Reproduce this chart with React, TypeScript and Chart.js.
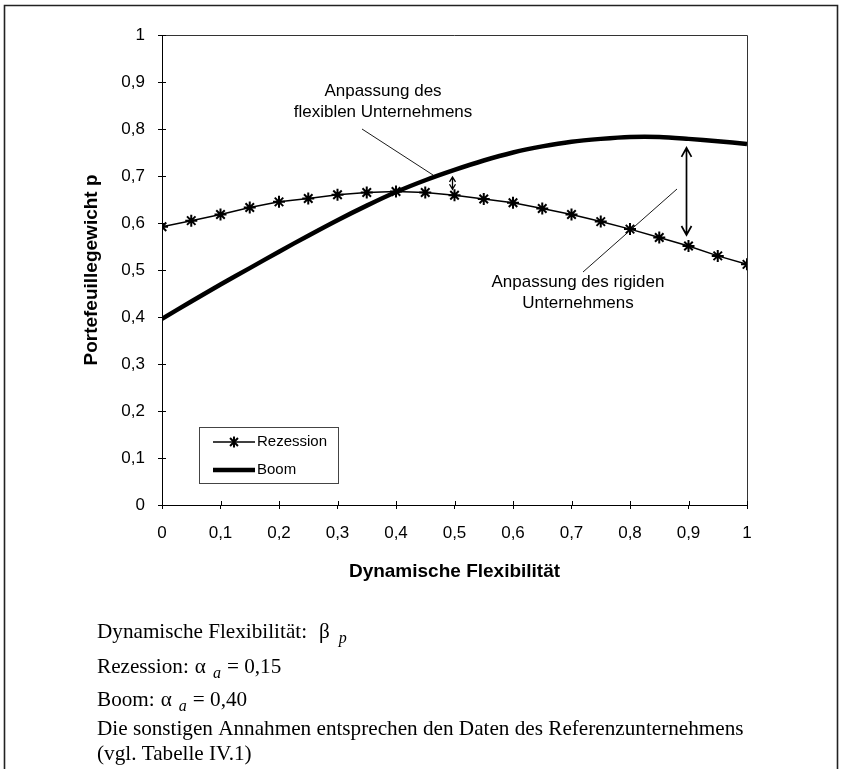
import React, { useEffect, useRef } from 'react';
import { Chart, registerables } from 'chart.js';

Chart.register(...registerables);

// ---------- data ----------
const xValues = [0, 0.05, 0.1, 0.15, 0.2, 0.25, 0.3, 0.35, 0.4, 0.45, 0.5, 0.55, 0.6, 0.65, 0.7, 0.75, 0.8, 0.85, 0.9, 0.95, 1];
const rezession = [0.592, 0.605, 0.618, 0.633, 0.645, 0.652, 0.66, 0.665, 0.667, 0.665, 0.659, 0.651, 0.643, 0.631, 0.618, 0.603, 0.587, 0.569, 0.551, 0.53, 0.512];
const boom = [0.396, 0.433, 0.469, 0.504, 0.539, 0.573, 0.606, 0.637, 0.666, 0.691, 0.713, 0.733, 0.75, 0.763, 0.773, 0.779, 0.783, 0.783, 0.779, 0.774, 0.768];
const seriesNames = ['Rezession', 'Boom'];
const xTickLabels = ['0', '0,1', '0,2', '0,3', '0,4', '0,5', '0,6', '0,7', '0,8', '0,9', '1'];
const yTickLabels = ['0', '0,1', '0,2', '0,3', '0,4', '0,5', '0,6', '0,7', '0,8', '0,9', '1'];
const xTitle = 'Dynamische Flexibilität';
const yTitle = 'Portefeuillegewicht p';
const noteFlex = ['Anpassung des', 'flexiblen Unternehmens'];
const noteRigid = ['Anpassung des rigiden', 'Unternehmens'];
const flexAt = 0.5;
const rigidAt = 0.9;
type Run = { t: string; sub?: boolean; gap?: number };
const footerLines: Run[][] = [
  [{ t: 'Dynamische Flexibilität:' }, { t: 'β', gap: 12 }, { t: 'p', sub: true, gap: 9 }],
  [{ t: 'Rezession:' }, { t: 'α', gap: 6 }, { t: 'a', sub: true, gap: 7 }, { t: '= 0,15', gap: 6 }],
  [{ t: 'Boom:' }, { t: 'α', gap: 6 }, { t: 'a', sub: true, gap: 7 }, { t: '= 0,40', gap: 6 }],
  [{ t: 'Die sonstigen Annahmen entsprechen den Daten des Referenzunternehmens' }],
  [{ t: '(vgl. Tabelle IV.1)' }],
];

const SANS = '"Liberation Sans", Arial, sans-serif';
const SERIF = '"Liberation Serif", "Times New Roman", serif';

function starMark(ctx: CanvasRenderingContext2D, x: number, y: number, r: number) {
  const d = r * 0.72;
  ctx.beginPath();
  ctx.moveTo(x - d, y - d); ctx.lineTo(x + d, y + d);
  ctx.moveTo(x + d, y - d); ctx.lineTo(x - d, y + d);
  ctx.moveTo(x, y - r); ctx.lineTo(x, y + r);
  ctx.stroke();
}

function doubleArrow(ctx: CanvasRenderingContext2D, x: number, y1: number, y2: number, head: number, half: number) {
  ctx.beginPath();
  ctx.moveTo(x, y1); ctx.lineTo(x, y2);
  ctx.moveTo(x - half, y1 + head); ctx.lineTo(x, y1); ctx.lineTo(x + half, y1 + head);
  ctx.moveTo(x - half, y2 - head); ctx.lineTo(x, y2); ctx.lineTo(x + half, y2 - head);
  ctx.stroke();
}

const decorPlugin = {
  id: 'decor',
  afterDraw(chart: any) {
    const ctx: CanvasRenderingContext2D = chart.ctx;
    const { left, right, top, bottom } = chart.chartArea;
    const xs = chart.scales.x;
    const ys = chart.scales.y;
    ctx.save();

    // plot frame (top + right)
    ctx.strokeStyle = '#333';
    ctx.lineWidth = 1;
    ctx.beginPath();
    ctx.moveTo(left, Math.round(top) + 0.5);
    ctx.lineTo(Math.round(right) + 0.5, Math.round(top) + 0.5);
    ctx.lineTo(Math.round(right) + 0.5, bottom);
    ctx.stroke();

    // inner halves of the crossing tick marks
    ctx.strokeStyle = '#000';
    ctx.beginPath();
    ys.ticks.forEach((t: any) => {
      const y = Math.round(ys.getPixelForValue(t.value)) + 0.5;
      ctx.moveTo(left, y); ctx.lineTo(left + 4, y);
    });
    xs.ticks.forEach((t: any) => {
      const x = Math.round(xs.getPixelForValue(t.value)) + 0.5;
      ctx.moveTo(x, bottom); ctx.lineTo(x, bottom - 4);
    });
    ctx.stroke();

    // legend
    const ds = chart.data.datasets;
    ctx.strokeStyle = '#444';
    ctx.lineWidth = 1;
    ctx.strokeRect(199.5, 427.5, 139, 56);
    ctx.font = `15px ${SANS}`;
    ctx.fillStyle = '#000';
    ctx.textBaseline = 'middle';
    ctx.textAlign = 'left';
    ctx.strokeStyle = '#000';
    ctx.lineWidth = ds[0].borderWidth;
    ctx.beginPath(); ctx.moveTo(213, 442); ctx.lineTo(255, 442); ctx.stroke();
    ctx.lineWidth = 2;
    starMark(ctx, 234, 442, 5.5);
    ctx.fillText(ds[0].label, 257, 442);
    ctx.lineWidth = ds[1].borderWidth;
    ctx.beginPath(); ctx.moveTo(213, 470); ctx.lineTo(255, 470); ctx.stroke();
    ctx.fillText(ds[1].label, 257, 470);

    // annotations
    ctx.font = `17px ${SANS}`;
    ctx.textAlign = 'center';
    ctx.fillText(noteFlex[0], 383, 91);
    ctx.fillText(noteFlex[1], 383, 112);
    ctx.fillText(noteRigid[0], 578, 282);
    ctx.fillText(noteRigid[1], 578, 303);
    ctx.lineWidth = 0.9;
    ctx.beginPath();
    ctx.moveTo(362, 129); ctx.lineTo(433, 175);
    ctx.moveTo(583, 272); ctx.lineTo(677, 189);
    ctx.stroke();

    // double arrows between the two curves
    const iFlex = xValues.indexOf(flexAt);
    const iRigid = xValues.indexOf(rigidAt);
    const xf = xs.getPixelForValue(flexAt) - 2;
    ctx.lineWidth = 1.3;
    doubleArrow(ctx, xf, ys.getPixelForValue(boom[iFlex]) + 7, ys.getPixelForValue(rezession[iFlex]) - 6, 5, 3);
    const xr = xs.getPixelForValue(rigidAt) - 2;
    ctx.lineWidth = 1.7;
    doubleArrow(ctx, xr, ys.getPixelForValue(boom[iRigid]) + 9, ys.getPixelForValue(rezession[iRigid]) - 11, 9, 5);

    // footer notes
    const lineY = [631, 666, 699, 728, 753];
    ctx.textAlign = 'left';
    ctx.textBaseline = 'alphabetic';
    footerLines.forEach((runs, li) => {
      let x = 97;
      const base = lineY[li] + 7;
      runs.forEach((r) => {
        x += r.gap || 0;
        if (r.sub) {
          ctx.font = `italic 16px ${SERIF}`;
          ctx.fillText(r.t, x, base + 5);
        } else {
          ctx.font = `21.2px ${SERIF}`;
          ctx.fillText(r.t, x, base);
        }
        x += ctx.measureText(r.t).width;
      });
    });

    // outer frame
    ctx.strokeStyle = '#222';
    ctx.lineWidth = 1.6;
    ctx.beginPath();
    ctx.moveTo(4.5, 769); ctx.lineTo(4.5, 5.5); ctx.lineTo(837.5, 5.5); ctx.lineTo(837.5, 769);
    ctx.stroke();

    ctx.restore();
  },
};

export default function App() {
  const ref = useRef<HTMLCanvasElement>(null);
  useEffect(() => {
    const canvas = ref.current;
    if (!canvas) return;
    const chart = new Chart(canvas, {
      type: 'line',
      data: {
        datasets: [
          {
            label: seriesNames[0],
            data: xValues.map((x, i) => ({ x, y: rezession[i] })),
            borderColor: '#000',
            backgroundColor: '#000',
            borderWidth: 1.5,
            pointStyle: 'star',
            pointRadius: 6,
            pointBorderWidth: 2,
            pointBorderColor: '#000',
            pointBackgroundColor: '#000',
            tension: 0,
            fill: false,
          },
          {
            label: seriesNames[1],
            data: xValues.map((x, i) => ({ x, y: boom[i] })),
            borderColor: '#000',
            backgroundColor: '#000',
            borderWidth: 4.5,
            pointRadius: 0,
            tension: 0.3,
            fill: false,
          },
        ],
      },
      options: {
        responsive: false,
        animation: false,
        devicePixelRatio: 1,
        events: [],
        layout: { padding: { left: 0, right: 94, top: 35, bottom: 184 } },
        plugins: { legend: { display: false }, tooltip: { enabled: false }, title: { display: false } },
        scales: {
          x: {
            type: 'linear',
            position: 'bottom',
            min: 0,
            max: 1,
            ticks: {
              stepSize: 0.1,
              autoSkip: false,
              maxRotation: 0,
              padding: 14,
              color: '#000',
              font: { family: SANS, size: 17 },
              callback: (v: any) => xTickLabels[Math.round(Number(v) * 10)],
            },
            grid: { drawOnChartArea: false, drawTicks: true, tickLength: 4, color: '#000', lineWidth: 1 },
            border: { display: true, color: '#000', width: 1 },
            title: {
              display: true,
              text: xTitle,
              color: '#000',
              font: { family: SANS, size: 19, weight: 'bold' },
              padding: { top: 0, bottom: 2 },
            },
            afterFit: (s: any) => { s.height = 80; },
          },
          y: {
            type: 'linear',
            position: 'left',
            min: 0,
            max: 1,
            ticks: {
              stepSize: 0.1,
              autoSkip: false,
              padding: 13,
              color: '#000',
              font: { family: SANS, size: 17 },
              callback: (v: any) => yTickLabels[Math.round(Number(v) * 10)],
            },
            grid: { drawOnChartArea: false, drawTicks: true, tickLength: 4, color: '#000', lineWidth: 1 },
            border: { display: true, color: '#000', width: 1 },
            title: {
              display: true,
              text: yTitle,
              color: '#000',
              font: { family: SANS, size: 19, weight: 'bold' },
              padding: { top: 80, bottom: 0 },
            },
            afterFit: (s: any) => { s.width = 162; },
          },
        },
      },
      plugins: [decorPlugin],
    } as any);
    return () => chart.destroy();
  }, []);
  return (
    <div style={{ position: 'absolute', left: 0, top: 0, width: 841, height: 769, background: '#fff' }}>
      <canvas ref={ref} width={841} height={769} style={{ display: 'block' }} />
    </div>
  );
}
